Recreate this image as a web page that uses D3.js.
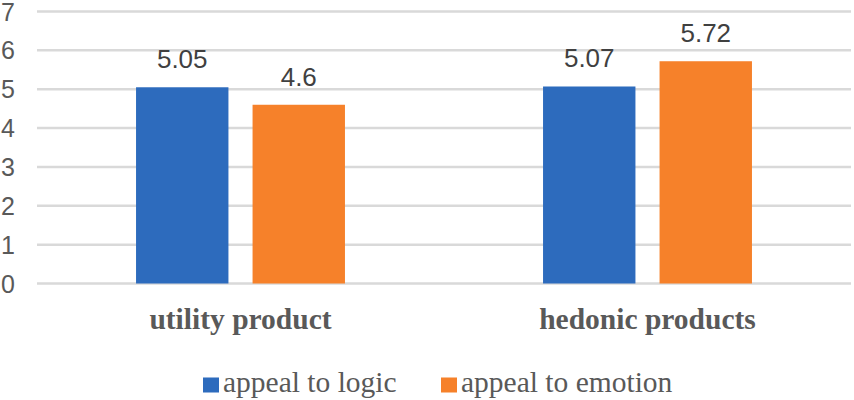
<!DOCTYPE html>
<html>
<head>
<meta charset="utf-8">
<script src="https://cdn.jsdelivr.net/npm/d3@7"></script>
<style>
html,body{margin:0;padding:0;background:#fff;}
svg{display:block;}
</style>
</head>
<body>
<svg id="chart" width="854" height="400"></svg>
<script>
const categories = ["utility product", "hedonic products"];
const seriesNames = ["appeal to logic", "appeal to emotion"];
const logicValues = [5.05, 5.07];
const emotionValues = [4.6, 5.72];
const valueLabels = [["5.05", "5.07"], ["4.6", "5.72"]];
const yTicks = [0, 1, 2, 3, 4, 5, 6, 7];
const colors = ["#2d6bbd", "#f6812a"];

const seriesValues = [logicValues, emotionValues];
const svg = d3.select("#chart");
const serif = "'Liberation Serif', 'Times New Roman', serif";
const sans = "'Liberation Sans', Arial, sans-serif";

const y = d3.scaleLinear().domain([0, 7]).range([283.5, 11.5]);
const x0 = d3.scaleBand().domain(categories).range([37, 851]).paddingInner(0).paddingOuter(0);
const x1 = d3.scaleBand().domain(seriesNames).range([0, x0.bandwidth()]).paddingInner(0.207).paddingOuter(0.85);

// gridlines
svg.append("g").selectAll("line").data(yTicks).join("line")
  .attr("x1", 37).attr("x2", 851)
  .attr("y1", d => y(d)).attr("y2", d => y(d))
  .attr("stroke", "#d9d9d9").attr("stroke-width", 2.5);

// y axis labels
svg.append("g").selectAll("text").data(yTicks).join("text")
  .attr("x", 15).attr("y", d => y(d)).attr("dy", "0.36em")
  .attr("text-anchor", "end")
  .attr("font-family", sans)
  .attr("font-size", 25).attr("fill", "#595959")
  .text(d => d);

// bars
const rows = [];
categories.forEach((c, ci) => {
  seriesNames.forEach((s, si) => {
    rows.push({cat: c, ser: s, si: si, v: seriesValues[si][ci], label: valueLabels[si][ci]});
  });
});

svg.append("g").selectAll("rect").data(rows).join("rect")
  .attr("x", d => x0(d.cat) + x1(d.ser))
  .attr("width", x1.bandwidth())
  .attr("y", d => y(d.v))
  .attr("height", d => y(0) - y(d.v))
  .attr("fill", d => colors[d.si]);

// value labels
svg.append("g").selectAll("text").data(rows).join("text")
  .attr("x", d => x0(d.cat) + x1(d.ser) + x1.bandwidth() / 2)
  .attr("y", d => y(d.v) - 19)
  .attr("text-anchor", "middle")
  .attr("font-family", sans)
  .attr("font-size", 26).attr("fill", "#404040")
  .text(d => d.label);

// category labels
svg.append("g").selectAll("text").data(categories).join("text")
  .attr("x", d => x0(d) + x0.bandwidth() / 2)
  .attr("y", 328.5)
  .attr("text-anchor", "middle")
  .attr("font-family", serif)
  .attr("font-weight", "bold")
  .attr("font-size", 29.5).attr("fill", "#595959")
  .text(d => d);

// legend
const legendX = [203, 441];
const lg = svg.append("g").selectAll("g").data(seriesNames).join("g")
  .attr("transform", (d, i) => `translate(${legendX[i]},0)`);
lg.append("rect").attr("x", 0).attr("y", 377.5).attr("width", 16).attr("height", 15)
  .attr("fill", (d, i) => colors[i]);
lg.append("text").attr("x", 20).attr("y", 392)
  .attr("font-family", serif)
  .attr("font-size", 29.5).attr("fill", "#595959")
  .text(d => d);
</script>
</body>
</html>
